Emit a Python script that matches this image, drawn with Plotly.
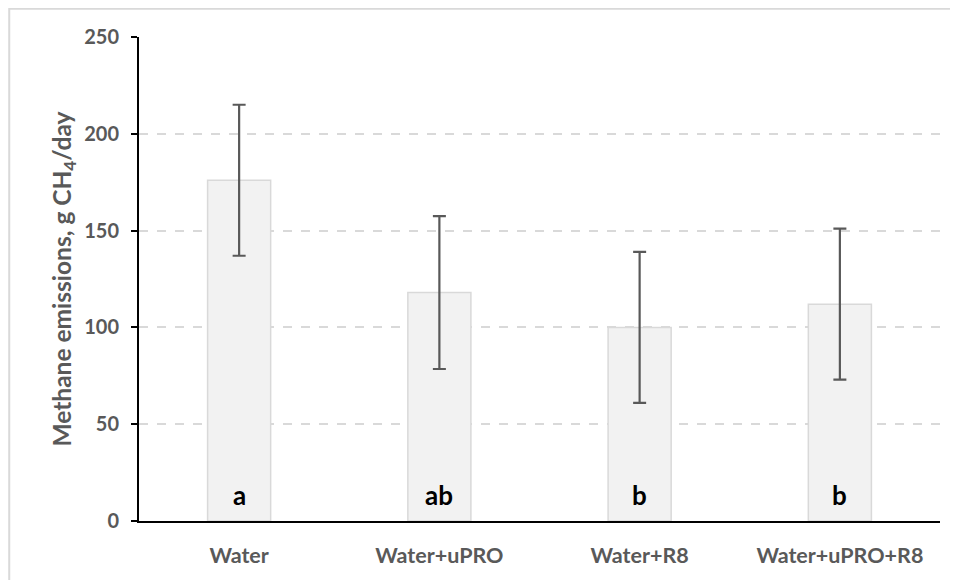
import plotly.graph_objects as go

categories = ["Water", "Water+uPRO", "Water+R8", "Water+uPRO+R8"]
means = [176, 118, 100, 112]
errors = [39, 39.5, 39, 39]
letters = ["a", "ab", "b", "b"]
y_ticks = [0, 50, 100, 150, 200, 250]

FONT = "Lato"
GRAY = "#595959"

fig = go.Figure()
fig.add_trace(go.Bar(
    x=categories, y=means,
    marker=dict(color="#f2f2f2", line=dict(color="#d9d9d9", width=1.5)),
    error_y=dict(type="data", array=errors, visible=True, color=GRAY, thickness=2.2, width=6.5),
    showlegend=False, hoverinfo="skip",
))

for c, l in zip(categories, letters):
    fig.add_annotation(x=c, y=13.2, text=f"<b>{l}</b>", showarrow=False,
                       font=dict(family=FONT, size=26, color="#000000"), yanchor="middle")

# outer chart frame
fig.add_shape(type="rect", xref="paper", yref="paper", x0=-0.162, x1=1.2, y0=-0.3, y1=1.0585,
              line=dict(color="#d9d9d9", width=2), fillcolor="rgba(0,0,0,0)", layer="below")

fig.update_layout(
    width=950, height=572,
    margin=dict(l=131, r=18, t=29, b=59),
    paper_bgcolor="white", plot_bgcolor="white",
    bargap=0.685,
    font=dict(family=FONT, color=GRAY),
    xaxis=dict(
        showline=True, linecolor="black", linewidth=2,
        ticks="", showgrid=False,
        tickfont=dict(family=FONT, size=21.5, color=GRAY, weight="bold"),
        ticklabelstandoff=14,
    ),
    yaxis=dict(
        range=[0, 250], tickvals=y_ticks,
        showline=True, linecolor="black", linewidth=2,
        ticks="outside", ticklen=6, tickwidth=2, tickcolor="black",
        showgrid=True, gridcolor="#d9d9d9", gridwidth=1.5, griddash="dash",
        zeroline=False,
        tickfont=dict(family=FONT, size=20, color=GRAY, weight="bold"),
        ticklabelstandoff=8,
        title=dict(text="<b>Methane emissions, g CH<sub>4</sub>/day</b>",
                   font=dict(family=FONT, size=24.5, color=GRAY), standoff=6),
    ),
)

fig.write_html("out.html")
